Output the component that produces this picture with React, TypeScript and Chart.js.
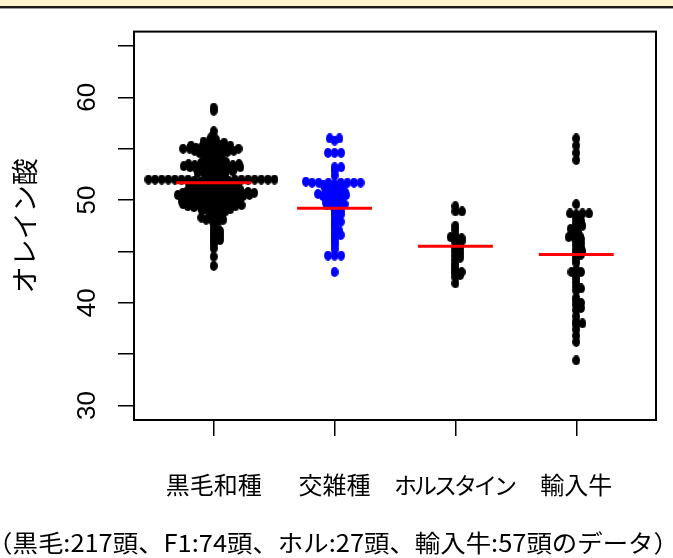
import { useEffect, useRef } from 'react';
import { Chart, registerables } from 'chart.js';

Chart.register(...registerables);

const categories = ['黒毛和種', '交雑種', 'ホルスタイン', '輸入牛'];

const wagyu = [
  59.0, 58.7,
  56.7, 56.1,
  55.9, 55.8, 55.7, 55.6, 55.6, 55.5,
  55.4, 55.3, 55.3, 55.2, 55.2, 55.1, 55.1, 55.0, 55.0, 55.0, 55.0, 54.9, 54.9, 54.9, 54.8, 54.8, 54.7, 54.7, 54.6, 54.6, 54.5, 54.5, 55.3, 54.8, 55.1,
  54.4, 54.3, 54.2, 54.2, 54.1, 54.0, 53.9, 53.8,
  53.7, 53.6, 53.6, 53.5, 53.5, 53.5, 53.4, 53.4, 53.4, 53.3, 53.3, 53.3, 53.2, 53.2, 53.2, 53.1, 53.1, 53.0, 53.0, 53.0, 53.6, 53.3, 53.1,
  52.9, 52.8, 52.8, 52.7, 52.6, 52.6, 52.5, 52.4, 52.3, 52.7, 52.5, 52.2,
  52.0, 52.0, 52.0, 52.0, 52.0, 52.0, 52.0, 52.0, 52.0, 52.0, 52.0, 52.0, 52.0, 52.0, 52.0, 52.0,
  51.9, 51.9, 51.8, 51.8, 51.7, 51.7, 51.7, 51.6, 51.6, 51.5, 51.5, 51.5, 51.4, 51.4, 51.4, 51.3, 51.3, 51.3, 51.2, 51.2, 51.1, 51.1, 51.6, 51.2, 51.9,
  51.0, 51.0, 51.0, 50.9, 50.9, 50.9, 50.9, 50.8, 50.8, 50.8, 50.8, 50.7, 50.7, 50.7, 50.7, 50.7,
  50.6, 50.6, 50.6, 50.6, 50.5, 50.5, 50.5, 50.5, 50.5, 50.4, 50.4, 50.4, 50.4, 50.3, 50.3, 50.3, 50.3,
  50.2, 50.2, 50.2, 50.1, 50.1, 50.0, 50.0,
  49.9, 49.9, 49.9, 49.8, 49.8, 49.8, 49.8, 49.7, 49.7, 49.7, 49.6, 49.6, 49.6, 49.6, 49.5, 49.5, 49.5, 49.4, 49.4, 49.4, 49.4, 49.3, 49.3, 49.3,
  49.2, 49.2, 49.1, 49.1, 49.0, 49.0, 48.9, 48.9, 48.8, 48.7, 48.6,
  48.5, 48.4, 48.3, 48.3, 48.2, 48.1, 48.1, 48.0, 47.9,
  47.7, 47.3, 47.0,
  46.9, 46.7, 46.6, 46.4, 46.3, 46.1, 46.0,
  45.7, 45.3,
  44.5, 43.6,
];

const crossbred = [
  56.0, 56.0, 55.8,
  54.6, 54.6, 54.6,
  53.2, 53.2, 52.9,
  52.4,
  51.8, 51.7, 51.7, 51.7, 51.7, 51.7, 51.7, 51.7, 51.6,
  51.5, 51.4, 51.4, 51.3, 51.2, 51.1, 51.1, 51.0,
  50.9, 50.8, 50.8, 50.7, 50.6, 50.6, 50.5, 50.4, 50.4, 50.3, 50.2, 50.1, 50.0, 50.5,
  49.9, 49.8, 49.7, 49.6, 49.5, 49.4, 49.3, 49.6,
  49.1, 48.9, 48.8, 48.6, 48.5,
  48.3, 48.1, 47.9, 47.8,
  47.5, 47.2, 47.0, 46.8, 46.6, 46.5,
  46.2, 45.9, 45.6,
  45.2, 44.6, 44.6, 44.6,
  43.0,
];

const holstein = [
  49.4, 48.9, 48.9,
  47.5, 47.1,
  46.6, 46.4, 46.3, 46.2, 46.0, 45.9,
  45.6, 45.4, 45.2, 45.0, 44.8, 44.6, 44.4, 44.2,
  43.8, 43.5,
  43.2, 43.0, 42.9, 42.7, 42.5,
  41.9,
];

const imported = [
  56.0, 55.3, 54.6, 53.9,
  49.6,
  48.7, 48.7, 48.7, 48.6,
  48.2, 48.0, 47.8,
  47.5, 47.4, 47.2, 47.1, 46.9, 46.8, 46.6, 46.5, 46.3, 46.2, 46.0, 45.8, 46.4,
  45.6, 45.4, 45.2, 45.0, 44.9, 44.7, 44.5,
  44.2, 43.9,
  43.2, 43.0, 43.0, 42.8,
  42.4, 42.0,
  41.6, 41.4, 41.2,
  40.5, 40.2, 40.0, 39.8, 39.5, 39.3,
  38.7,
  38.2, 38.0, 37.9,
  37.4, 36.8, 36.2,
  34.4,
];

const means = [51.7, 49.2, 45.5, 44.7];
const yTicks = [30, 35, 40, 45, 50, 55, 60, 65];
const yLabelTicks = [30, 40, 50, 60];
const pointColors = ['#000000', '#0000FF', '#000000', '#000000'];
const yTitle = 'オレイン酸';
const footnote = '（黒毛:217頭、F1:74頭、ホル:27頭、輸入牛:57頭のデータ）';

// swarm spacing (px): horizontal gap between tied points, vertical interaction range
const SWARM_SX = 6.6;
const SWARM_SY = 3.0;

function swarm(values: number[], pxPerY: number, sx: number, sy: number): number[] {
  const order = values.map((_, i) => i).sort((a, b) => values[a] - values[b]);
  const placed: { x: number; y: number }[] = [];
  const out: number[] = new Array(values.length).fill(0);
  for (const i of order) {
    const y = values[i] * pxPerY;
    const near = placed.filter((p) => Math.abs(p.y - y) < sy);
    const cands = [0];
    for (const p of near) {
      const t = (p.y - y) / sy;
      const dx = sx * Math.sqrt(Math.max(0, 1 - t * t));
      cands.push(p.x + dx, p.x - dx);
    }
    cands.sort((a, b) => Math.abs(a) - Math.abs(b));
    let chosen = 0;
    for (const c of cands) {
      const ok = near.every((p) => {
        const a = (p.x - c) / sx;
        const b = (p.y - y) / sy;
        return a * a + b * b >= 1 - 1e-6;
      });
      if (ok) {
        chosen = c;
        break;
      }
    }
    placed.push({ x: chosen, y });
    out[i] = chosen;
  }
  return out;
}

function dotImage(color: string): HTMLCanvasElement {
  const c = document.createElement('canvas');
  c.width = 8;
  c.height = 10;
  const g = c.getContext('2d') as CanvasRenderingContext2D;
  g.fillStyle = color;
  g.beginPath();
  g.ellipse(4, 5, 3.95, 4.95, 0, 0, Math.PI * 2);
  g.fill();
  return c;
}

export default function App() {
  const ref = useRef<HTMLCanvasElement>(null);

  useEffect(() => {
    const groups = [wagyu, crossbred, holstein, imported];
    const framePlugin = {
      id: 'rframe',
      afterDraw(chart: any) {
        const { ctx, chartArea: a } = chart;
        ctx.save();
        ctx.strokeStyle = '#000';
        ctx.lineWidth = 2;
        ctx.strokeRect(a.left, a.top, a.right - a.left, a.bottom - a.top);

        // category labels under the x-axis ticks
        const xs = chart.scales.x;
        ctx.fillStyle = '#000';
        ctx.textAlign = 'center';
        ctx.textBaseline = 'middle';
        categories.forEach((label, i) => {
          const kana = i === 2;
          ctx.font = kana ? '23px "Noto Sans CJK JP"' : '24px "Noto Sans CJK JP"';
          (ctx as any).letterSpacing = kana ? '-3px' : '0px';
          ctx.fillText(label, xs.getPixelForValue(i + 1) + (kana ? -1.5 : 0), 485);
        });
        (ctx as any).letterSpacing = '0px';

        // footnote under the chart, fitted to the reference's ink extent
        ctx.font = '24px "Noto Sans CJK JP"';
        ctx.textAlign = 'left';
        ctx.textBaseline = 'middle';
        const m = ctx.measureText(footnote);
        const inkW = m.actualBoundingBoxLeft + m.actualBoundingBoxRight;
        const targetL = 4;
        const targetR = 662;
        const k = (targetR - targetL) / inkW;
        ctx.translate(targetL, 543);
        ctx.scale(k, 1);
        ctx.fillText(footnote, m.actualBoundingBoxLeft, 0);
        ctx.restore();
      },
    };

    const chart = new Chart(ref.current as HTMLCanvasElement, {
      type: 'scatter',
      data: {
        datasets: [
          ...means.map((m, i) => ({
            type: 'line',
            data: [
              { x: i + 1 - 0.31, y: m },
              { x: i + 1 + 0.31, y: m },
            ],
            borderColor: '#FF0000',
            borderWidth: 3,
            pointRadius: 0,
            order: 0,
          })),
          ...groups.map((g, i) => ({
            type: 'scatter',
            data: g.map((v) => ({ x: i + 1, y: v })),
            backgroundColor: pointColors[i],
            borderWidth: 0,
            pointRadius: 4,
            pointStyle: dotImage(pointColors[i]),
            order: 1,
          })),
        ],
      } as any,
      options: {
        animation: false,
        responsive: false,
        maintainAspectRatio: false,
        layout: { padding: { top: 24, right: 17, left: 0, bottom: 0 } },
        plugins: { legend: { display: false }, tooltip: { enabled: false } },
        scales: {
          x: {
            type: 'linear',
            min: 0.34,
            max: 4.66,
            afterBuildTicks: (s: any) => {
              s.ticks = categories.map((_, i) => ({ value: i + 1 }));
            },
            afterFit: (s: any) => {
              s.height = 138;
            },
            ticks: { display: false },
            grid: { drawOnChartArea: false, drawTicks: true, tickLength: 16, color: '#000', lineWidth: 1.5 },
            border: { display: false },
          },
          y: {
            type: 'linear',
            min: 28.6,
            max: 66.4,
            afterBuildTicks: (s: any) => {
              s.ticks = yTicks.map((v) => ({ value: v }));
            },
            afterFit: (s: any) => {
              s.width = 134;
            },
            ticks: {
              autoSkip: false,
              minRotation: 90,
              maxRotation: 90,
              crossAlign: 'center',
              padding: 16,
              color: '#000',
              font: { family: '"Liberation Sans", Arial, sans-serif', size: 26 },
              callback: (v: any) => (yLabelTicks.includes(Number(v)) ? String(v) : ''),
            },
            grid: { drawOnChartArea: false, drawTicks: true, tickLength: 16, color: '#000', lineWidth: 1.5 },
            border: { display: false },
            title: {
              display: true,
              text: yTitle,
              color: '#000',
              font: { family: '"Noto Sans CJK JP"', size: 27 },
              padding: { top: 9, bottom: 0 },
            },
          },
        },
      } as any,
      plugins: [framePlugin],
    });

    const xs: any = chart.scales.x;
    const ys: any = chart.scales.y;
    const pxX = xs.getPixelForValue(1) - xs.getPixelForValue(0);
    const pxY = ys.getPixelForValue(0) - ys.getPixelForValue(1);
    groups.forEach((g, i) => {
      const off = swarm(g, pxY, SWARM_SX, SWARM_SY);
      (chart.data.datasets[4 + i] as any).data = g.map((v, k) => ({ x: i + 1 + off[k] / pxX, y: v }));
    });
    chart.update();

    return () => chart.destroy();
  }, []);

  return (
    <div style={{ position: 'absolute', left: 0, top: 0, width: 673, height: 558, background: '#fff', overflow: 'hidden' }}>
      <canvas ref={ref} width={673} height={558} style={{ display: 'block', position: 'absolute', left: 0, top: 0 }} />
      <div style={{ position: 'absolute', left: 0, top: 0, width: 673, height: 6, background: '#FFF2CC' }} />
      <div style={{ position: 'absolute', left: 0, top: 6, width: 673, height: 2, background: '#1a1a1a' }} />
      <div style={{ position: 'absolute', left: 0, top: 8, width: 673, height: 1, background: '#9a9a9a' }} />
    </div>
  );
}
